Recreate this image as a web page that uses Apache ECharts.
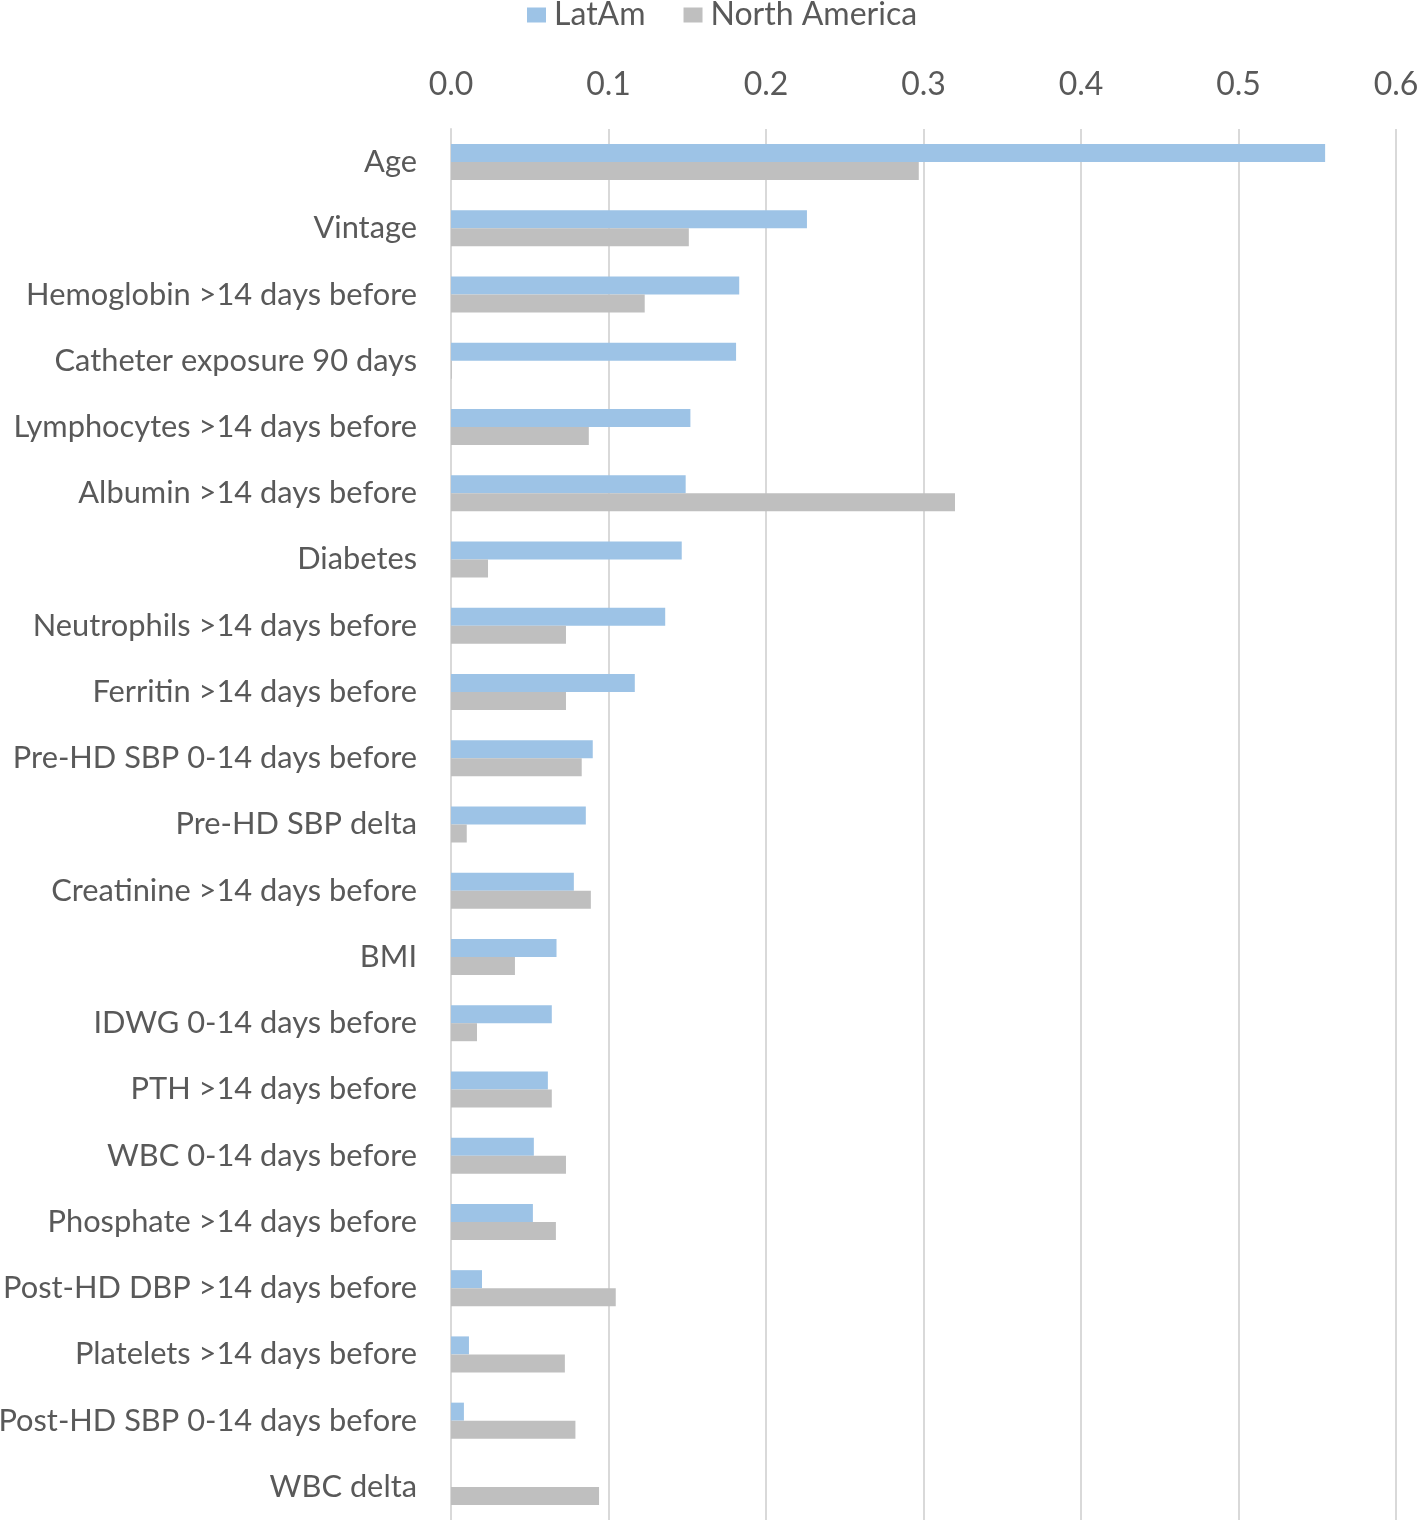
<!DOCTYPE html>
<html><head><meta charset="utf-8">
<script src="https://cdn.jsdelivr.net/npm/echarts@6/dist/echarts.min.js"></script>
<style>html,body{margin:0;padding:0;background:#fff}#c{width:1417px;height:1520px}</style>
</head><body><div id="c"></div>
<script>
const categories = ["Age","Vintage","Hemoglobin >14 days before","Catheter exposure 90 days","Lymphocytes >14 days before","Albumin >14 days before","Diabetes","Neutrophils >14 days before","Ferritin >14 days before","Pre-HD SBP 0-14 days before","Pre-HD SBP delta","Creatinine >14 days before","BMI","IDWG 0-14 days before","PTH >14 days before","WBC 0-14 days before","Phosphate >14 days before","Post-HD DBP >14 days before","Platelets >14 days before","Post-HD SBP 0-14 days before","WBC delta"];
const latAm = [0.555,0.226,0.183,0.181,0.152,0.149,0.1465,0.136,0.1167,0.090,0.0856,0.078,0.067,0.064,0.0615,0.0526,0.052,0.0197,0.0114,0.0082,0];
const northAmerica = [0.297,0.151,0.123,0.0005,0.0875,0.320,0.0235,0.073,0.073,0.083,0.010,0.0888,0.0406,0.0165,0.064,0.073,0.0666,0.1046,0.0723,0.079,0.094];
const xTicks = {min:0,max:0.6,interval:0.1};
const FONT = "Lato";
const chart = echarts.init(document.getElementById('c'));
chart.setOption({
  animation:false,
  textStyle:{fontFamily:FONT},
  legend:{top:-1,left:527,padding:0,itemWidth:19,itemHeight:15,itemGap:38,icon:'rect',
    textStyle:{fontSize:32,color:'#595959',fontFamily:FONT,padding:[0,0,0,3]},
    data:['LatAm','North America']},
  grid:{left:451,right:21,top:129,bottom:0,containLabel:false,outerBoundsMode:'none'},
  xAxis:{type:'value',position:'top',min:xTicks.min,max:xTicks.max,interval:xTicks.interval,
    axisLabel:{fontSize:32,color:'#595959',margin:28,formatter:v=>v.toFixed(1),fontFamily:FONT},
    axisLine:{show:false},axisTick:{show:false},
    splitLine:{lineStyle:{color:'#d9d9d9',width:2}}},
  yAxis:{type:'category',inverse:true,data:categories,
    axisLabel:{fontSize:30.8,color:'#595959',margin:34,fontFamily:FONT},
    axisLine:{show:true,lineStyle:{color:'#d9d9d9',width:2}},axisTick:{show:false}},
  series:[
    {name:'LatAm',type:'bar',data:latAm,barWidth:18,barGap:'0%',itemStyle:{color:'#9dc3e6'}},
    {name:'North America',type:'bar',data:northAmerica,barWidth:18,barGap:'0%',itemStyle:{color:'#bfbfbf'}}
  ]
});
</script></body></html>
